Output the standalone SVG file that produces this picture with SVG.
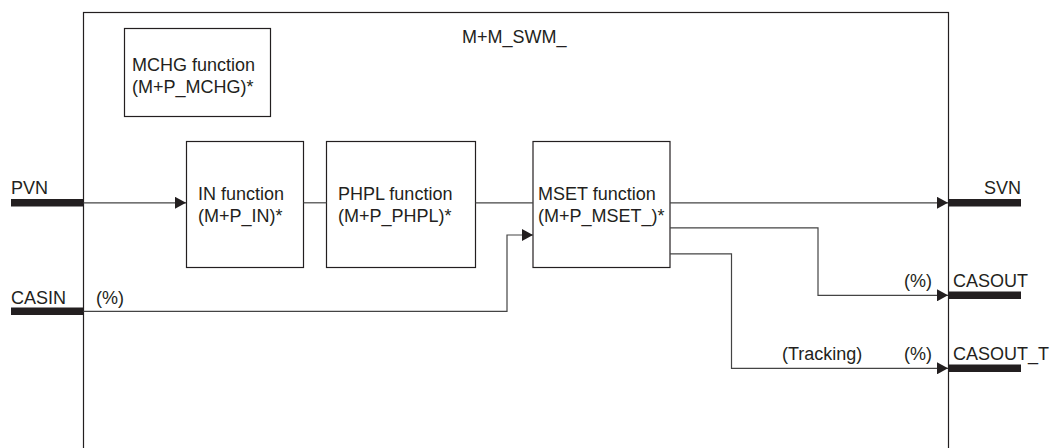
<svg xmlns="http://www.w3.org/2000/svg" width="1052" height="448" viewBox="0 0 1052 448">
<style>
text{font-family:"Liberation Sans",Arial,sans-serif;font-size:18px;fill:#231f20}
.box{fill:#fff;stroke:#231f20;stroke-width:1.2}
.conn{fill:none;stroke:#444;stroke-width:1.2}
.bar{fill:#231f20}
</style>
<defs>
<marker id="arr" markerWidth="12" markerHeight="12" refX="11" refY="6" orient="auto" markerUnits="userSpaceOnUse">
<path d="M0,0 L11,6 L0,12 Z" fill="#231f20"/>
</marker>
</defs>
<g id="outer">
<rect x="83.5" y="12.5" width="865" height="460" class="box"/>
<text x="462" y="43">M+M_SWM_</text>
</g>
<g id="mchg">
<rect x="124.5" y="28.5" width="146" height="88" class="box"/>
<text x="132" y="71">MCHG function</text>
<text x="132" y="93">(M+P_MCHG)*</text>
</g>
<g id="in">
<rect x="186.5" y="141.5" width="117" height="126" class="box"/>
<text x="198" y="200">IN function</text>
<text x="198" y="222">(M+P_IN)*</text>
</g>
<g id="phpl">
<rect x="326.5" y="141.5" width="149" height="126" class="box"/>
<text x="338" y="200">PHPL function</text>
<text x="338" y="222">(M+P_PHPL)*</text>
</g>
<g id="mset">
<rect x="533" y="141.5" width="137" height="126" class="box"/>
<text x="538" y="200">MSET function</text>
<text x="538" y="222">(M+P_MSET_)*</text>
</g>
<g id="pvn">
<rect x="11" y="199" width="72.5" height="7.5" class="bar"/>
<text x="11" y="194">PVN</text>
</g>
<g id="casin">
<rect x="11" y="307.5" width="72.5" height="7.5" class="bar"/>
<text x="11" y="304">CASIN</text>
<text x="96" y="304">(%)</text>
</g>
<g id="svn">
<rect x="948.5" y="199" width="72.5" height="7.5" class="bar"/>
<text x="1021" y="194" text-anchor="end">SVN</text>
</g>
<g id="casout">
<rect x="948.5" y="291.5" width="72.5" height="7.5" class="bar"/>
<text x="953" y="287">CASOUT</text>
<text x="904" y="287">(%)</text>
</g>
<g id="casout_t">
<rect x="948.5" y="364.5" width="72.5" height="7.5" class="bar"/>
<text x="953" y="360">CASOUT_T</text>
<text x="904" y="360">(%)</text>
<text x="782" y="360">(Tracking)</text>
</g>
<g id="connectors">
<path class="conn" d="M83.5,202.8 H186" marker-end="url(#arr)"/>
<path class="conn" d="M303.5,202.8 H326.5"/>
<path class="conn" d="M475.5,202.8 H533"/>
<path class="conn" d="M670,202.8 H948" marker-end="url(#arr)"/>
<path class="conn" d="M83.5,311.3 H507 V235 H533" marker-end="url(#arr)"/>
<path class="conn" d="M670,227.8 H818 V295.3 H948" marker-end="url(#arr)"/>
<path class="conn" d="M670,253.8 H731.5 V368.3 H948" marker-end="url(#arr)"/>
</g>
</svg>
